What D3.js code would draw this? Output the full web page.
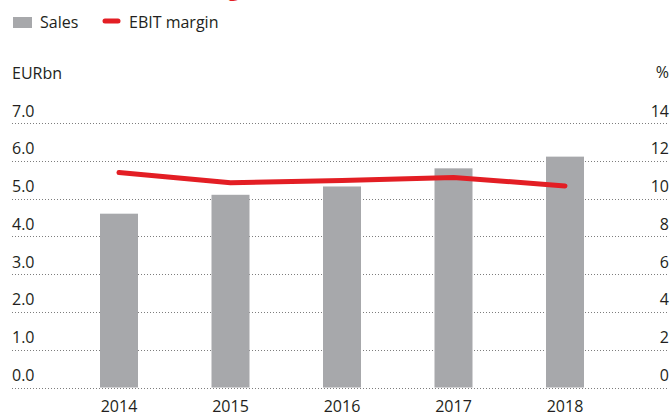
<!doctype html>
<html>
<head>
    <meta charset="utf-8">
    <title>Sales and EBIT margin</title>
    <script src="https://d3js.org/d3.v7.min.js"></script>
	<style>
        body {
            margin: 0;
            background: #fff;
        }

		.axis text, .label {
			font-family: "Open Sans", sans-serif;
            font-size: 16px;
			fill: #231f20;
		}

        .grid line {
            stroke: #7d7d7d;
            stroke-width: 1;
            stroke-dasharray: 1,2;
            shape-rendering: crispEdges;
        }

        .title {
            font: bold 22px "Open Sans", sans-serif;
            fill: #e31e24;
        }
	</style>
</head>

<body>
<div id="forChart"></div>

<script>

const dataset = [
    {year: "2014", sales: 4.6, margin: 11.38},
    {year: "2015", sales: 5.1, margin: 10.84},
    {year: "2016", sales: 5.32, margin: 10.95},
    {year: "2017", sales: 5.8, margin: 11.12},
    {year: "2018", sales: 6.11, margin: 10.67}
];

const w = 670;
const h = 417;

const margin = {
	top: 123,
	right: 1,
	bottom: 29,
	left: 12
};

const barColor = "#a7a8ab";
const lineColor = "#e31e24";

const svg = d3.select("#forChart")
                .append("svg")
                .attr("width", w)
                .attr("height", h);

// title is cut off in the original, only the descender shows
svg.append("text")
    .attr("class", "title")
    .attr("x", 21)
    .attr("y", -4)
    .text("Sales and EBIT margin");

const xScale = d3.scalePoint()
                 .domain(dataset.map(d => d.year))
                 .range([119, 565]);

const yLeft = d3.scaleLinear()
                .domain([0, 7])
                .range([h - margin.bottom - 0.5, margin.top]);

const yRight = d3.scaleLinear()
                 .domain([0, 14])
                 .range([h - margin.bottom - 0.5, margin.top]);

const barWidth = 38;

// grid lines
svg.append("g")
    .attr("class", "grid")
    .selectAll("line")
    .data(d3.range(0, 8))
    .enter()
    .append("line")
    .attr("x1", margin.left)
    .attr("x2", w - margin.right)
    .attr("y1", d => Math.round(yLeft(d)) + 0.5)
    .attr("y2", d => Math.round(yLeft(d)) + 0.5);

// bars
svg.selectAll("rect.bar")
    .data(dataset)
    .enter()
    .append("rect")
    .attr("class", "bar")
    .attr("x", d => xScale(d.year) - barWidth / 2)
    .attr("y", d => yLeft(d.sales))
    .attr("width", barWidth)
    .attr("height", d => yLeft(0) - yLeft(d.sales))
    .style("fill", barColor);

// ebit margin line
const line = d3.line()
               .x(d => xScale(d.year))
               .y(d => yRight(d.margin));

svg.append("path")
    .datum(dataset)
    .attr("d", line)
    .style("fill", "none")
    .style("stroke", lineColor)
    .style("stroke-width", 5)
    .style("stroke-linecap", "round")
    .style("stroke-linejoin", "round");

// left axis labels
svg.append("g")
    .attr("class", "axis")
    .selectAll("text")
    .data(d3.range(0, 8))
    .enter()
    .append("text")
    .attr("x", margin.left)
    .attr("y", d => yLeft(d) - 6.5)
    .text(d => d3.format(".1f")(d));

// right axis labels
svg.append("g")
    .attr("class", "axis")
    .selectAll("text")
    .data(d3.range(0, 15, 2))
    .enter()
    .append("text")
    .attr("x", w - 1)
    .attr("y", d => yRight(d) - 6.5)
    .style("text-anchor", "end")
    .text(d => d);

// x axis labels
svg.append("g")
    .attr("class", "axis")
    .selectAll("text")
    .data(dataset)
    .enter()
    .append("text")
    .attr("x", d => xScale(d.year))
    .attr("y", 412)
    .style("text-anchor", "middle")
    .text(d => d.year);

// units
svg.append("text")
    .attr("class", "label")
    .attr("x", margin.left)
    .attr("y", 79)
    .text("EURbn");

svg.append("text")
    .attr("class", "label")
    .attr("x", w - 1)
    .attr("y", 78)
    .style("text-anchor", "end")
    .text("%");

// legend
svg.append("rect")
    .attr("x", 13)
    .attr("y", 17)
    .attr("width", 19)
    .attr("height", 11)
    .style("fill", barColor);

svg.append("text")
    .attr("class", "label")
    .attr("x", 40)
    .attr("y", 28)
    .text("Sales");

svg.append("line")
    .attr("x1", 105)
    .attr("x2", 118)
    .attr("y1", 21)
    .attr("y2", 21)
    .style("stroke", lineColor)
    .style("stroke-width", 5)
    .style("stroke-linecap", "round");

svg.append("text")
    .attr("class", "label")
    .attr("x", 129)
    .attr("y", 28)
    .text("EBIT margin");

</script>

</body>

</html>
